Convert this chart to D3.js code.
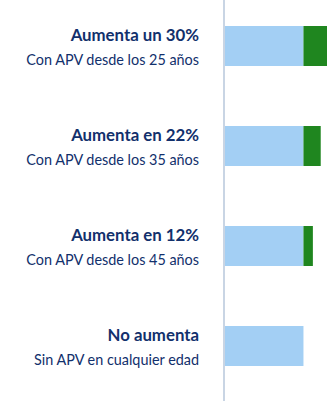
<!DOCTYPE html>
<html><head><meta charset="utf-8">
<script src="https://cdn.jsdelivr.net/npm/d3@7"></script>
<style>html,body{margin:0;padding:0;background:#fff;}svg{display:block;}</style>
</head><body>
<svg id="c" width="327" height="401"></svg>
<script>
const categories = ["Aumenta un 30%", "Aumenta en 22%", "Aumenta en 12%", "No aumenta"];
const subtitles = ["Con APV desde los 25 años", "Con APV desde los 35 años", "Con APV desde los 45 años", "Sin APV en cualquier edad"];
const baseValues = [100, 100, 100, 100];
const extraValues = [30, 22, 12, 0];

const svg = d3.select("#c");
const x = d3.scaleLinear().domain([0, 130]).range([225, 327]);
const y = d3.scaleBand().domain(categories).range([-4, 396]).paddingInner(0.6).paddingOuter(0.3);

const g = svg.append("g");
g.selectAll("rect.base").data(categories).join("rect")
  .attr("x", x(0)).attr("y", d => y(d))
  .attr("width", (d, i) => x(baseValues[i]) - x(0))
  .attr("height", y.bandwidth()).attr("fill", "#a3cff4");
g.selectAll("rect.extra").data(categories).join("rect")
  .attr("x", (d, i) => x(baseValues[i]))
  .attr("y", d => y(d))
  .attr("width", (d, i) => x(baseValues[i] + extraValues[i]) - x(baseValues[i]))
  .attr("height", y.bandwidth()).attr("fill", "#1f861f");

svg.append("line").attr("x1", 224).attr("x2", 224).attr("y1", 0).attr("y2", 401)
  .attr("stroke", "#c9d5e4").attr("stroke-width", 2);

const lab = svg.selectAll("g.lab").data(categories).join("g")
  .attr("transform", d => `translate(199,${y(d) + y.bandwidth() / 2})`);
lab.append("text").attr("text-anchor", "end").attr("y", -4.7)
  .attr("font-family", "Lato, sans-serif").attr("font-weight", 700)
  .attr("font-size", 16.8).attr("fill", "#12306c").text(d => d);
lab.append("text").attr("text-anchor", "end").attr("y", 19.3)
  .attr("font-family", "Lato, sans-serif").attr("font-weight", 400)
  .attr("font-size", 14.4).attr("fill", "#12306c").text((d, i) => subtitles[i]);
</script>
</body></html>
